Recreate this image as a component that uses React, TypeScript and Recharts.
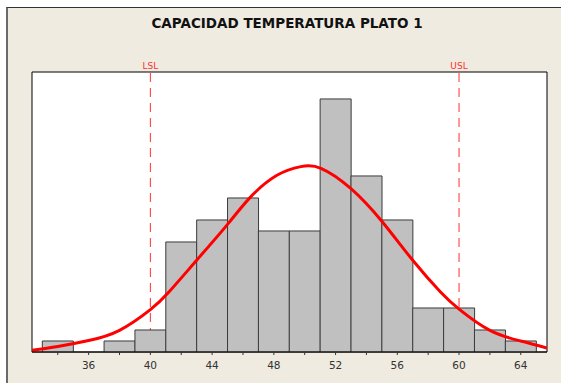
import React from "react";
import {
  ComposedChart,
  Bar,
  Line,
  XAxis,
  YAxis,
  ReferenceLine,
  ReferenceArea,
} from "recharts";

const binCenters = [34, 36, 38, 40, 42, 44, 46, 48, 50, 52, 54, 56, 58, 60, 62, 64];
const binCounts = [1, 0, 1, 2, 10, 12, 14, 11, 11, 23, 16, 12, 4, 4, 2, 1];

const fitX = [32.33, 34, 36, 38, 40, 41.2, 43, 45, 46.5, 48.2, 49.75, 51.05, 53, 55.05, 57, 58.8, 60, 62, 64, 65.7];
const fitY = [0.15, 0.5, 1.04, 1.97, 3.85, 5.45, 8.34, 11.6, 14.1, 16.06, 16.85, 16.7, 14.85, 11.8, 8.34, 5.45, 3.9, 1.97, 1.0, 0.36];

const axisTicks = [34, 36, 38, 40, 42, 44, 46, 48, 50, 52, 54, 56, 58, 60, 62, 64];
const labelEvery = 4;

const xDomain: [number, number] = [32.33, 65.7];
const yDomain: [number, number] = [0, 25.45];

const specLimits = [
  { value: 40, label: "LSL" },
  { value: 60, label: "USL" },
];

const title = "CAPACIDAD TEMPERATURA PLATO 1";

const histData = binCenters.map((c, i) => ({ x: c, count: binCounts[i] }));
const fitData = fitX.map((x, i) => ({ x, fit: fitY[i] }));

const FONT = "'DejaVu Sans', Verdana, sans-serif";

const TickLabel = (props: any) => {
  const { x, y, payload } = props;
  if (payload.value % labelEvery !== 0) return <g />;
  return (
    <text
      x={x}
      y={y}
      dy="0.71em"
      textAnchor="middle"
      fontSize={10.5}
      fontFamily={FONT}
      fill="#333"
    >
      {payload.value}
    </text>
  );
};

export default function App() {
  return (
    <div
      style={{
        position: "fixed",
        left: 0,
        top: 0,
        width: 561,
        height: 383,
        background: "#ffffff",
        overflow: "hidden",
      }}
    >
      <div
        style={{
          position: "absolute",
          left: 6,
          top: 7,
          right: 0,
          bottom: 0,
          background: "#EFEBE1",
          borderLeft: "2px solid #6a6a6a",
          borderTop: "1px solid #333",
        }}
      />
      <div
        style={{
          position: "absolute",
          left: 0,
          top: 15,
          width: 574,
          textAlign: "center",
          fontFamily: FONT,
          fontWeight: "bold",
          fontSize: 13.5,
          color: "#111",
        }}
      >
        {title}
      </div>
      <div style={{ position: "absolute", left: 0, top: 0 }}>
        <ComposedChart
          width={561}
          height={383}
          data={histData}
          margin={{ top: 72, right: 14, bottom: 1, left: 32 }}
          barCategoryGap={0}
          barGap={0}
        >
          <XAxis
            xAxisId="bins"
            dataKey="x"
            type="number"
            domain={xDomain}
            ticks={binCenters}
            interval={0}
            allowDataOverflow
            orientation="top"
            height={0}
            hide
          />
          <XAxis
            xAxisId="fit"
            dataKey="x"
            type="number"
            domain={xDomain}
            ticks={axisTicks}
            interval={0}
            allowDataOverflow
            height={30}
            axisLine={{ stroke: "#000" }}
            tickLine={{ stroke: "#333" }}
            tickSize={3}
            tickMargin={7}
            tick={<TickLabel />}
          />
          <YAxis yAxisId="y" type="number" domain={yDomain} allowDataOverflow hide />
          <ReferenceArea
            xAxisId="fit"
            yAxisId="y"
            x1={xDomain[0]}
            x2={xDomain[1]}
            y1={yDomain[0]}
            y2={yDomain[1]}
            fill="#ffffff"
            fillOpacity={1}
            stroke="#000"
            strokeWidth={1}
            ifOverflow="visible"
            zIndex={-100}
          />
          {specLimits.map((s) => (
            <ReferenceLine
              key={s.label}
              xAxisId="fit"
              yAxisId="y"
              x={s.value}
              stroke="#FF3030"
              strokeWidth={1}
              strokeDasharray="9 6"
              zIndex={-50}
              label={{
                value: s.label,
                position: "top",
                offset: 3,
                fill: "#FF3030",
                fontSize: 9,
                fontFamily: FONT,
              }}
            />
          ))}
          <Bar
            xAxisId="bins"
            yAxisId="y"
            dataKey="count"
            fill="#C0C0C0"
            stroke="#3a3a3a"
            strokeWidth={1}
            isAnimationActive={false}
          />
          <Line
            xAxisId="fit"
            yAxisId="y"
            data={fitData}
            dataKey="fit"
            type="natural"
            stroke="#FF0000"
            strokeWidth={3}
            dot={false}
            activeDot={false}
            isAnimationActive={false}
          />
        </ComposedChart>
      </div>
    </div>
  );
}
